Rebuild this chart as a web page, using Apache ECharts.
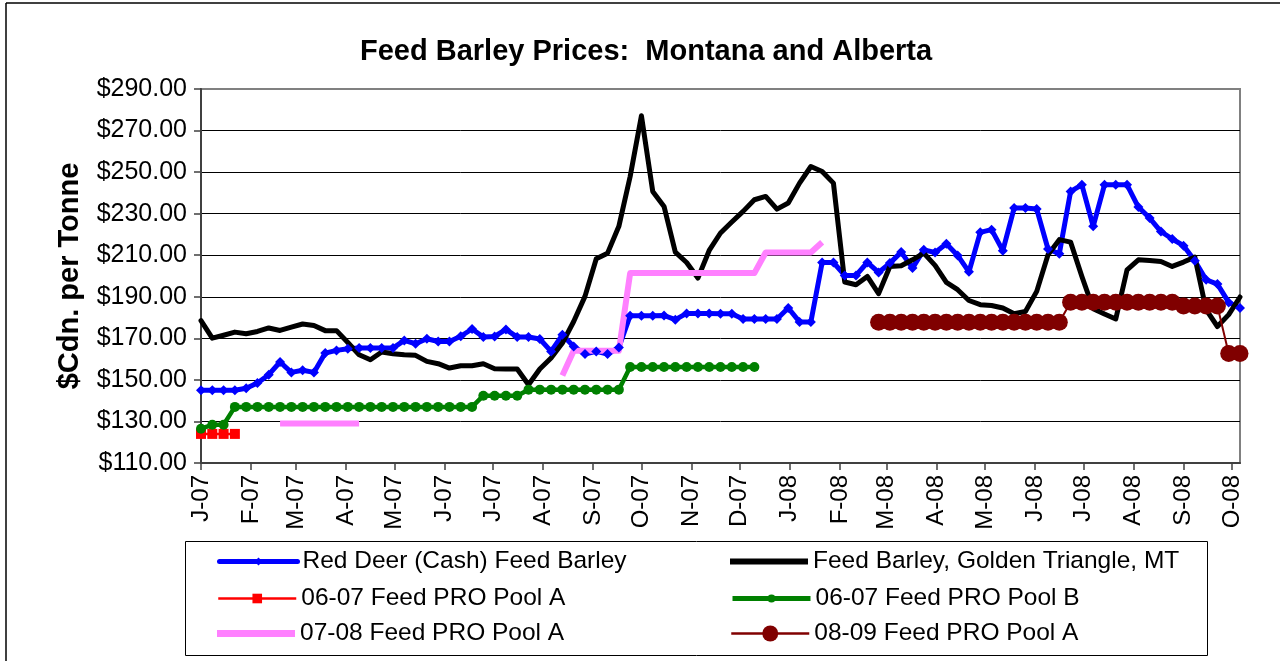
<!DOCTYPE html>
<html><head><meta charset="utf-8">
<script src="https://cdn.jsdelivr.net/npm/echarts@6/dist/echarts.min.js"></script>
<style>html,body{margin:0;padding:0;background:#fff}#c{width:1280px;height:661px}</style>
</head><body><div id="c"></div>
<script>
// ---------- DATA ----------
const titleText = 'Feed Barley Prices:  Montana and Alberta';
const yAxisTitle = '$Cdn. per Tonne';
const firstDay = [2007, 0, 1];   // axis start (Jan 1 2007)
const lastDay = [2008, 9, 6];    // axis end (Oct 6 2008)
const weekStep = 7;              // weekly observations
const monthLabels = ['J-07','F-07','M-07','A-07','M-07','J-07','J-07','A-07','S-07','O-07','N-07','D-07',
                     'J-08','F-08','M-08','A-08','M-08','J-08','J-08','A-08','S-08','O-08'];
const seriesNames = ['Red Deer (Cash) Feed Barley','Feed Barley, Golden Triangle, MT',
                     '06-07 Feed PRO Pool A','06-07 Feed PRO Pool B',
                     '07-08 Feed PRO Pool A','08-09 Feed PRO Pool A'];

const redDeer = [145,145,145,145,146,148.5,152.5,158.6,153.6,154.6,
 153.6,162.9,164.2,165,165.3,165.3,165.3,165.3,169,167.4,
 169.8,168.5,168.5,171,174.5,170.6,170.9,174.3,170.6,170.6,
 169.7,163.7,171.7,166.1,162.4,163.7,162.4,165.6,180.9,180.9,
 180.9,181,179,182,182,182,181.8,181.8,179.3,179.3,
 179.3,179.3,184.6,177.9,177.9,206.5,206.5,200.3,200.3,206.5,
 201.7,206.2,211.5,203.8,212.6,211.3,215.5,209.9,202,221,
 222.3,212.2,232.7,232.7,232.2,213,210.7,240.7,243.9,223.9,
 243.9,243.9,243.9,233.2,227.9,221.4,217.8,214.6,207.3,198.2,
 196.1,187.3,184.6];
const goldenTriangle = [178.5,170.1,171.5,173,172.2,173.3,175,173.8,175.4,176.9,
 176.2,173.7,173.7,168,162.1,159.7,163.4,162.6,162.1,161.8,
 158.9,157.8,155.7,156.8,156.8,157.8,155.4,155.2,155.2,147.7,
 155.2,160.5,167.7,178.1,190.2,208.3,211,223.9,247.9,277.1,
 240.7,233.5,211.5,206.5,199,212.3,220.7,226,231.1,236.7,
 238.3,232.2,235.1,244.7,252.7,250.3,244.7,197.1,195.8,199.8,
 191.5,204.6,204.9,207.8,211,205.1,196.9,193.4,188.2,186.2,
 185.8,184.6,181.8,182.9,192.6,210.2,217.5,216.3,199.8,184.3,
 181.7,179.3,203,207.8,207.5,207,204.6,206.7,209.1,183.8,
 175.7,181.4,189.9];
const poolA0607Start = 0;
const poolA0607 = [124,124,124,124];
const poolB0607Start = 0;
const poolB0607 = [126.5,128.4,128.4,
 137,137,137,137,137,137,137,137,137,137,137,137,137,137,137,137,137,137,137,137,137,137,
 142.4,142.4,142.4,142.4,
 145.3,145.3,145.3,145.3,145.3,145.3,145.3,145.3,145.3,
 156.2,156.2,156.2,156.2,156.2,156.2,156.2,156.2,156.2,156.2,156.2,156.2];
const poolA0708Start = 7;
const poolA0708 = [129,129,129,129,129,129,129,129,
 null,null,null,null,null,null,null,null,null,null,null,null,null,null,null,null,null,
 152.1,164,164,164,164,164,
 201.4,201.4,201.4,201.4,201.4,201.4,201.4,201.4,201.4,201.4,201.4,201.4,
 211.3,211.3,211.3,211.3,211.3,216.2];
const poolA0809Start = 60;
const poolA0809 = [177.7,177.7,177.7,177.7,177.7,177.7,177.7,177.7,177.7,177.7,177.7,177.7,177.7,177.7,177.7,177.7,177.7,
 187.4,187.4,187.4,187.4,187.4,187.4,187.4,187.4,187.4,187.4,
 185.6,185.6,185.6,185.6,
 162.7,162.7];

// ---------- BUILD ----------
const DAY = 86400000;
const t0 = Date.UTC(...firstDay), t1 = Date.UTC(...lastDay);
const days = [];
for (let t = t0; t <= t1; t += DAY) days.push(new Date(t).toISOString().slice(0, 10));
const toPairs = (arr, startWeek) => arr.map((v, i) => [(startWeek + i) * weekStep, v]);
const isMonthStart = (i, v) => typeof v === 'string' && v.slice(8) === '01';
const monthLabel = v => { const y = +v.slice(0, 4), m = +v.slice(5, 7); return monthLabels[(y - firstDay[0]) * 12 + m - 1]; };

const FONT = '"Liberation Sans", Arial, sans-serif';
const base = { type: 'line', showAllSymbol: true, animation: false, connectNulls: false, z: 2 };
const series = [
  Object.assign({}, base, { name: seriesNames[0], data: toPairs(redDeer, 0), color: '#0000FF',
    symbol: 'diamond', symbolSize: 10, lineStyle: { width: 5, join: 'round', cap: 'round' } }),
  Object.assign({}, base, { name: seriesNames[1], data: toPairs(goldenTriangle, 0), color: '#000000',
    symbol: 'none', lineStyle: { width: 5, join: 'round', cap: 'round' } }),
  Object.assign({}, base, { name: seriesNames[2], data: toPairs(poolA0607, poolA0607Start), color: '#FF0000',
    symbol: 'rect', symbolSize: 10, lineStyle: { width: 2.5 } }),
  Object.assign({}, base, { name: seriesNames[3], data: toPairs(poolB0607, poolB0607Start), color: '#008000',
    symbol: 'circle', symbolSize: 10, lineStyle: { width: 4.5, join: 'round' } }),
  Object.assign({}, base, { name: seriesNames[4], data: toPairs(poolA0708, poolA0708Start), color: '#FF80FF',
    symbol: 'none', lineStyle: { width: 6, join: 'round' } }),
  Object.assign({}, base, { name: seriesNames[5], data: toPairs(poolA0809, poolA0809Start), color: '#800000',
    symbol: 'circle', symbolSize: 17, lineStyle: { width: 2 } })
];

const legendLayout = [
  { idx: 0, left: 217, top: 549, h: 10, lw: 5 },
  { idx: 1, left: 730, top: 549, h: 6, icon: 'rect' },
  { idx: 2, left: 217, top: 586, h: 12, lw: 2.5 },
  { idx: 3, left: 730, top: 586, h: 10, lw: 5 },
  { idx: 4, left: 217, top: 621, h: 7, icon: 'rect' },
  { idx: 5, left: 730, top: 621, h: 20, lw: 2.5 }
];
const legends = legendLayout.map(l => ({
  data: [l.icon ? { name: seriesNames[l.idx], icon: l.icon } : { name: seriesNames[l.idx] }],
  left: l.left, top: l.top, itemWidth: 78, itemHeight: l.h, padding: 0, selectedMode: false,
  lineStyle: l.lw ? { width: l.lw } : undefined,
  textStyle: { fontSize: 24.5, fontFamily: FONT, color: '#000', lineHeight: 24 }
}));

const chart = echarts.init(document.getElementById('c'), null, { renderer: 'canvas' });
chart.setOption({
  backgroundColor: '#fff',
  animation: false,
  title: { text: titleText, left: 360, top: 37, padding: 0,
    textStyle: { fontSize: 29, fontWeight: 'bold', fontFamily: FONT, color: '#000' } },
  legend: legends,
  grid: { left: 201, right: 40, top: 89, bottom: 198, show: true, borderColor: '#808080', borderWidth: 2 },
  xAxis: {
    type: 'category', data: days, boundaryGap: false,
    axisLine: { lineStyle: { color: '#404040', width: 2 } },
    axisTick: { interval: isMonthStart, length: 7, lineStyle: { color: '#404040', width: 1.5 } },
    axisLabel: { interval: isMonthStart, formatter: monthLabel, rotate: 90, fontSize: 24,
      fontFamily: FONT, color: '#000', margin: 12 },
    splitLine: { show: false }
  },
  yAxis: {
    type: 'value', min: 110, max: 290, interval: 20,
    name: yAxisTitle, nameLocation: 'middle', nameGap: 117,
    nameTextStyle: { fontSize: 29, fontWeight: 'bold', fontFamily: FONT, color: '#000' },
    axisLine: { show: true, lineStyle: { color: '#404040', width: 2 } },
    axisTick: { show: true, length: 7, lineStyle: { color: '#404040', width: 1.5 } },
    axisLabel: { formatter: v => '$' + v.toFixed(2), fontSize: 25, fontFamily: FONT, color: '#000', margin: 14 },
    splitLine: { show: true, showMaxLine: false, showMinLine: false, lineStyle: { color: '#000', width: 1 } }
  },
  graphic: [
    { type: 'line', shape: { x1: 6, y1: 3, x2: 1280, y2: 3 }, style: { stroke: '#000', lineWidth: 1.5 } },
    { type: 'line', shape: { x1: 6, y1: 3, x2: 6, y2: 661 }, style: { stroke: '#000', lineWidth: 1.5 } },
    { type: 'rect', shape: { x: 185.5, y: 541.5, width: 1022, height: 114 }, style: { stroke: '#000', lineWidth: 1, fill: null } }
  ],
  series: series
});
</script></body></html>
